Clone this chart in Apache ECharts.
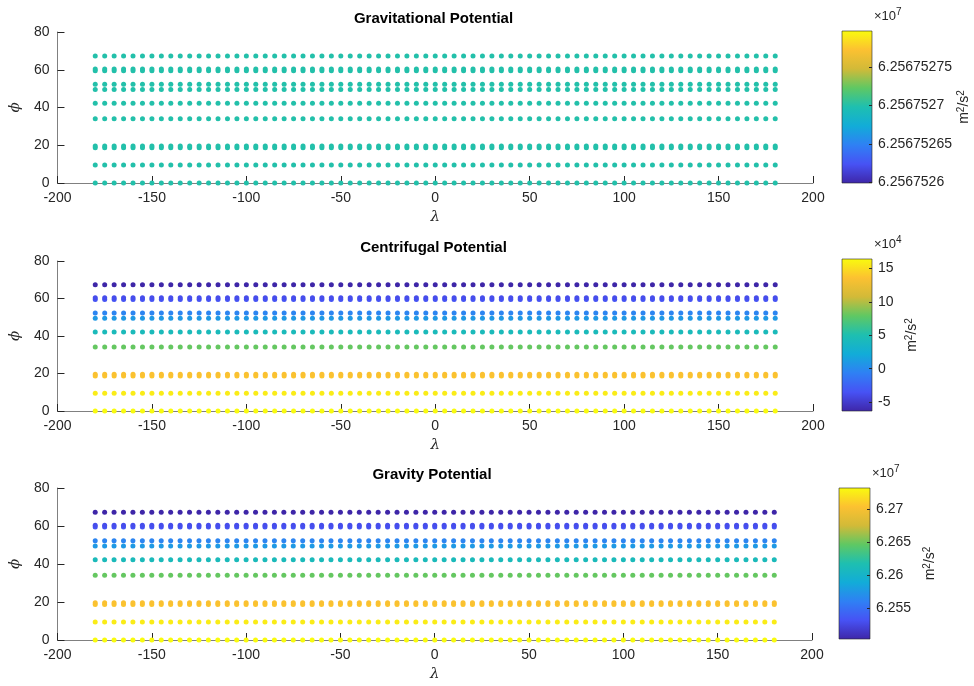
<!DOCTYPE html>
<html><head><meta charset="utf-8">
<script src="https://cdn.jsdelivr.net/npm/echarts@6/dist/echarts.min.js"></script>
<style>html,body{margin:0;padding:0;background:#fff}#c{width:974px;height:686px}</style>
</head><body><div id="c"></div>
<script>
// ---- data ----
const lons = [-180,-175,-170,-165,-160,-155,-150,-145,-140,-135,-130,-125,-120,-115,-110,-105,-100,-95,-90,-85,-80,-75,-70,-65,-60,-55,-50,-45,-40,-35,-30,-25,-20,-15,-10,-5,0,5,10,15,20,25,30,35,40,45,50,55,60,65,70,75,80,85,90,95,100,105,110,115,120,125,130,135,140,145,150,155,160,165,170,175,180];
const lats = [0, 9.5, 18.7, 19.6, 34.1, 42.2, 49.5, 52.3, 59.5, 60.4, 67.3];
const gravitational = [62567527, 62567527, 62567527, 62567527, 62567527, 62567527, 62567527, 62567527, 62567527, 62567527, 62567527];
const centrifugal = [164400, 157200, 138000, 134700, 80300, 43600, 9600, -3200, -34000, -38000, -63500];
const gravity = [62731927, 62724727, 62705527, 62702227, 62647827, 62611127, 62577127, 62564327, 62533527, 62529527, 62504027];
const titles = ['Gravitational Potential', 'Centrifugal Potential', 'Gravity Potential'];
const xTicks = [-200, -150, -100, -50, 0, 50, 100, 150, 200];
const yTicks = [0, 20, 40, 60, 80];
const cbLimits = [[62567525.99, 62567527.97], [-63500, 164400], [62504027, 62731927]];
const cbTicks = [[62567526, 62567526.5, 62567527, 62567527.5], [-50000, 0, 50000, 100000, 150000], [62550000, 62600000, 62650000, 62700000]];
const cbExponents = [7, 4, 7];

// ---- style / layout ----
const FONT = 'Liberation Sans, Arial, Helvetica, sans-serif';
const AX = '#262626';
const AXLINE = '#808080';
const parula = ['#3e26a8', '#4752f4', '#2f80f4', '#12acd8', '#1ebfb0', '#5fc863', '#d2ba38', '#fcc131', '#f9fb0e'];
const plotGrids = [
  {left: 54, top: 32, width: 759, height: 151},
  {left: 54, top: 261, width: 759, height: 150},
  {left: 52, top: 488, width: 760, height: 152}
];
const cbGrids = [
  {left: 842, top: 31, width: 30, height: 152},
  {left: 842, top: 259, width: 30, height: 152},
  {left: 839, top: 488, width: 31, height: 151}
];
const cbNameGap = [84, 32, 52];
const values = [gravitational, centrifugal, gravity];

const grids = plotGrids.concat(cbGrids);
const xAxes = [], yAxes = [], series = [], visualMaps = [], graphics = [];

function fmt(v, e) { return String(Number((v / Math.pow(10, e)).toPrecision(10))); }

for (let i = 0; i < 3; i++) {
  xAxes.push({
    gridIndex: i, type: 'value', min: xTicks[0], max: xTicks[xTicks.length - 1], interval: 50,
    axisLine: {show: true, onZero: false, lineStyle: {color: AXLINE, width: 1}},
    axisTick: {show: true, inside: true, length: 7, lineStyle: {color: AX}},
    axisLabel: {color: AX, fontSize: 14, fontFamily: FONT, margin: 8},
    splitLine: {show: false},
    name: 'λ', nameLocation: 'middle', nameGap: 27,
    nameTextStyle: {fontSize: 15, fontStyle: 'italic', color: AX, fontFamily: 'DejaVu Serif, serif'}
  });
  yAxes.push({
    gridIndex: i, type: 'value', min: yTicks[0], max: yTicks[yTicks.length - 1], interval: 20,
    axisLine: {show: true, onZero: false, lineStyle: {color: AXLINE, width: 1}},
    axisTick: {show: true, inside: true, length: 7, lineStyle: {color: AX}},
    axisLabel: {color: AX, fontSize: 14, fontFamily: FONT, margin: 8},
    splitLine: {show: false},
    name: 'ϕ', nameLocation: 'middle', nameGap: 33, nameRotate: 90,
    nameTextStyle: {fontSize: 15, fontStyle: 'italic', color: AX, fontFamily: 'DejaVu Serif, serif'}
  });
  const data = [];
  for (let r = 0; r < lats.length; r++) {
    for (let c = 0; c < lons.length; c++) data.push([lons[c], lats[r], values[i][r]]);
  }
  series.push({
    type: 'scatter', xAxisIndex: i, yAxisIndex: i, data: data, symbolSize: 5,
    itemStyle: {opacity: 1}, silent: true, animation: false
  });
  visualMaps.push({
    type: 'continuous', show: false, seriesIndex: i, dimension: 2,
    min: cbLimits[i][0], max: cbLimits[i][1], inRange: {color: parula}
  });
}

for (let i = 0; i < 3; i++) {
  const g = 3 + i;
  const e = cbExponents[i];
  xAxes.push({gridIndex: g, type: 'value', min: 0, max: 1, show: false});
  yAxes.push({
    gridIndex: g, type: 'value', position: 'right', min: cbLimits[i][0], max: cbLimits[i][1],
    axisLine: {show: false, onZero: false},
    axisTick: {show: true, inside: true, length: 3, lineStyle: {color: AX}, customValues: cbTicks[i]},
    axisLabel: {color: AX, fontSize: 14, fontFamily: FONT, margin: 6, customValues: cbTicks[i],
      formatter: (v) => fmt(v, e)},
    splitLine: {show: false},
    z: 5,
    name: '{a|m}{b|2}{a|/s}{b|2}', nameLocation: 'middle', nameRotate: 90, nameGap: cbNameGap[i],
    nameTextStyle: {color: AX, fontFamily: FONT,
      rich: {
        a: {fontSize: 14, fontFamily: FONT, color: AX},
        b: {fontSize: 10, fontFamily: FONT, color: AX, padding: [0, 0, 7, 0]}
      }}
  });
  series.push({
    type: 'custom', xAxisIndex: g, yAxisIndex: g, silent: true, animation: false, z: 1,
    data: [[cbLimits[i][0], cbLimits[i][1]]],
    encode: {y: [0, 1]},
    renderItem: function (params, api) {
      const p0 = api.coord([0, api.value(1)]);
      const p1 = api.coord([1, api.value(0)]);
      const stops = parula.map((c, k) => ({offset: k / (parula.length - 1), color: c}));
      return {
        type: 'rect',
        shape: {x: p0[0], y: p0[1], width: p1[0] - p0[0], height: p1[1] - p0[1]},
        style: {fill: new echarts.graphic.LinearGradient(0, 1, 0, 0, stops), stroke: AX, lineWidth: 0.6}
      };
    }
  });
  graphics.push({
    type: 'text', x: cbGrids[i].left + cbGrids[i].width + 2, y: cbGrids[i].top - 6,
    style: {
      text: '{a|×10}{b|' + e + '}', verticalAlign: 'bottom', align: 'left',
      rich: {
        a: {fontSize: 13, fontFamily: FONT, fill: AX, color: AX},
        b: {fontSize: 10, fontFamily: FONT, fill: AX, color: AX, padding: [0, 0, 8, 0]}
      }
    }
  });
  graphics.push({
    type: 'text', x: plotGrids[i].left + plotGrids[i].width / 2, y: plotGrids[i].top - 13,
    style: {text: titles[i], align: 'center', verticalAlign: 'middle', fontSize: 15, fontWeight: 'bold',
      fontFamily: FONT, fill: '#000'}
  });
}

const chart = echarts.init(document.getElementById('c'), null, {renderer: 'canvas'});
chart.setOption({
  backgroundColor: '#fff',
  animation: false,
  grid: grids,
  xAxis: xAxes,
  yAxis: yAxes,
  visualMap: visualMaps,
  series: series,
  graphic: graphics
});
</script></body></html>
